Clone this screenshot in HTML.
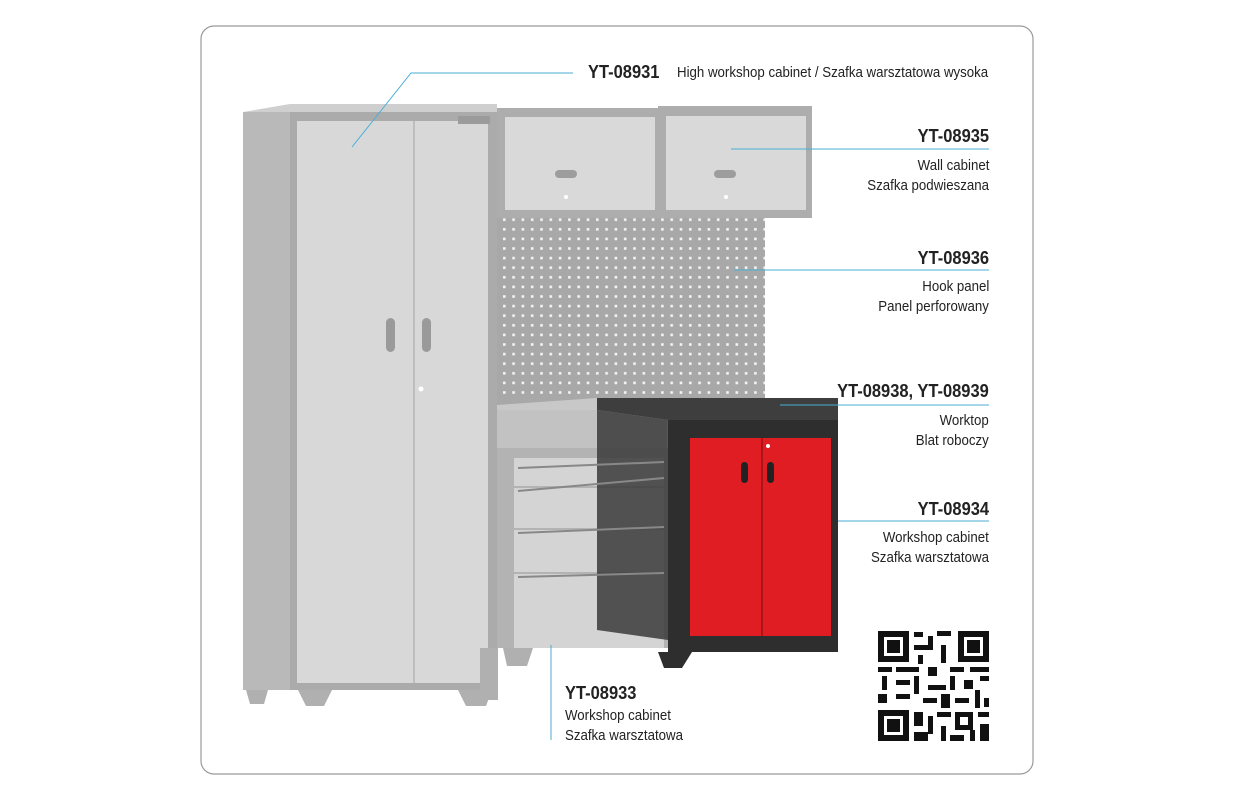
<!DOCTYPE html>
<html><head><meta charset="utf-8"><style>
body{margin:0;width:1234px;height:800px;background:#fff;position:relative;overflow:hidden;font-family:"Liberation Sans",sans-serif;color:#222}
.t{position:absolute;white-space:nowrap;font-size:14.5px;line-height:20px;transform:scaleX(0.915);transform-origin:left center}
.b{font-weight:bold;font-size:18px}
.r{text-align:right;right:245px;transform-origin:right center}
</style></head><body>
<svg width="1234" height="800" style="position:absolute;left:0;top:0">
<defs>
<pattern id="dots" x="501" y="226" width="9.3" height="9.6" patternUnits="userSpaceOnUse"><rect x="2" y="2" width="2.6" height="2.6" fill="#f4f4f4"/></pattern>
</defs>
<rect x="201" y="26" width="832" height="748" rx="13" fill="#fff" stroke="#9a9a9a" stroke-width="1.2"/>
<!-- tall cabinet -->
<polygon points="243,112 290,112 290,690 243,690" fill="#b9b9b9"/>
<polygon points="243,112 290,104 497,104 497,112" fill="#cfcfcf"/>
<rect x="290" y="112" width="207" height="578" fill="#ababab"/>
<rect x="297" y="121" width="191" height="562" fill="#d8d8d8"/>
<line x1="414" y1="121" x2="414" y2="683" stroke="#b5b5b5" stroke-width="1.5"/>
<rect x="386" y="318" width="9" height="34" rx="4.5" fill="#9a9a9a"/>
<rect x="422" y="318" width="9" height="34" rx="4.5" fill="#9a9a9a"/>
<circle cx="421" cy="389" r="2.5" fill="#fff"/>
<rect x="458" y="116" width="32" height="8" fill="#9b9b9b"/>
<path d="M246 690h22l-4 14h-14z M298 690h34l-8 16h-18z M458 690h34l-6 16h-20z" fill="#b0b0b0"/>
<!-- wall cabinets -->
<rect x="497" y="108" width="163" height="110" fill="#adadad"/>
<rect x="505" y="117" width="150" height="93" fill="#d9d9d9"/>
<rect x="555" y="170" width="22" height="8" rx="4" fill="#9d9d9d"/>
<circle cx="566" cy="197" r="2" fill="#fff"/>
<rect x="658" y="106" width="154" height="112" fill="#adadad"/>
<rect x="666" y="116" width="140" height="94" fill="#d9d9d9"/>
<rect x="714" y="170" width="22" height="8" rx="4" fill="#9d9d9d"/>
<circle cx="726" cy="197" r="2" fill="#fff"/>
<!-- pegboard -->
<rect x="497" y="218" width="268" height="192" fill="#a8a8a8"/>
<rect x="497" y="218" width="268" height="180" fill="url(#dots)"/>
<!-- worktop -->
<polygon points="497,405 597,398 838,398 838,410 497,418" fill="#c8c8c8"/>
<rect x="497" y="410" width="170" height="38" fill="#c2c2c2"/>
<!-- drawer cabinet -->
<rect x="497" y="448" width="171" height="200" fill="#b3b3b3"/>
<rect x="514" y="458" width="150" height="28" fill="#d4d4d4"/>
<rect x="514" y="488" width="150" height="40" fill="#d4d4d4"/>
<rect x="514" y="530" width="150" height="42" fill="#d4d4d4"/>
<rect x="514" y="574" width="150" height="74" fill="#d4d4d4"/>
<path d="M503 648h30l-6 18h-20z M480 648h18v52h-18z" fill="#b0b0b0"/>
<!-- dark overlay -->
<polygon points="597,410 668,420 668,640 597,630" fill="#3a3a3a" opacity="0.85"/>
<polygon points="597,398 838,398 838,420 668,420 597,410" fill="#3e3e3e"/>
<g stroke="#888" stroke-width="2"><line x1="518" y1="468" x2="664" y2="462"/><line x1="518" y1="491" x2="664" y2="478"/><line x1="518" y1="533" x2="664" y2="527"/><line x1="518" y1="577" x2="664" y2="573"/></g>
<!-- red cabinet -->
<rect x="668" y="420" width="170" height="232" fill="#2e2e2e"/>
<rect x="690" y="438" width="141" height="198" fill="#e11d24"/>
<line x1="762" y1="438" x2="762" y2="636" stroke="#9d1015" stroke-width="1.5"/>
<rect x="741" y="462" width="7" height="21" rx="3.5" fill="#222"/>
<rect x="767" y="462" width="7" height="21" rx="3.5" fill="#222"/>
<circle cx="768" cy="446" r="2" fill="#fff"/>
<path d="M658 652h34l-10 16h-18z" fill="#2e2e2e"/>
<rect x="820" y="640" width="14" height="10" fill="#2e2e2e"/>
<!-- connectors -->
<g stroke="#4aaed6" stroke-width="1" fill="none">
<polyline points="352,147 411,73 573,73"/>
<line x1="731" y1="149" x2="989" y2="149"/>
<line x1="734" y1="270" x2="989" y2="270"/>
<line x1="780" y1="405" x2="989" y2="405"/>
<line x1="838" y1="521" x2="989" y2="521"/>
<line x1="551" y1="645" x2="551" y2="740"/>
</g>
<!-- QR -->
<g fill="#111">
<rect x="878" y="631" width="111" height="110" fill="#fff"/>
<path d="M878 631h31v31h-31z M884 637v19h19v-19z M887 640h13v13h-13z" fill-rule="evenodd"/>
<path d="M958 631h31v31h-31z M964 637v19h19v-19z M967 640h13v13h-13z" fill-rule="evenodd"/>
<path d="M878 710h31v31h-31z M884 716v19h19v-19z M887 719h13v13h-13z" fill-rule="evenodd"/>
<rect x="914" y="632" width="9" height="5"/><rect x="928" y="636" width="5" height="14"/><rect x="937" y="631" width="14" height="5"/><rect x="914" y="645" width="18" height="5"/><rect x="941" y="645" width="5" height="18"/><rect x="918" y="655" width="5" height="9"/>
<rect x="878" y="667" width="14" height="5"/><rect x="896" y="667" width="23" height="5"/><rect x="928" y="667" width="9" height="9"/><rect x="950" y="667" width="14" height="5"/><rect x="970" y="667" width="19" height="5"/>
<rect x="882" y="676" width="5" height="14"/><rect x="896" y="680" width="14" height="5"/><rect x="914" y="676" width="5" height="18"/><rect x="928" y="685" width="18" height="5"/><rect x="950" y="676" width="5" height="14"/><rect x="964" y="680" width="9" height="9"/><rect x="980" y="676" width="9" height="5"/>
<rect x="878" y="694" width="9" height="9"/><rect x="896" y="694" width="14" height="5"/><rect x="923" y="698" width="14" height="5"/><rect x="941" y="694" width="9" height="14"/><rect x="955" y="698" width="14" height="5"/><rect x="975" y="690" width="5" height="18"/><rect x="984" y="698" width="5" height="9"/>
<rect x="914" y="712" width="9" height="14"/><rect x="928" y="716" width="5" height="18"/><rect x="937" y="712" width="14" height="5"/><rect x="955" y="712" width="18" height="18" /><rect x="960" y="717" width="8" height="8" fill="#fff"/><rect x="978" y="712" width="11" height="5"/>
<rect x="914" y="732" width="14" height="9"/><rect x="941" y="726" width="5" height="15"/><rect x="950" y="735" width="14" height="6"/><rect x="970" y="730" width="5" height="11"/><rect x="980" y="724" width="9" height="17"/>
</g>
</svg>
<div class="t b" style="left:588px;top:62px">YT-08931</div>
<div class="t" style="left:677px;top:63px">High workshop cabinet / Szafka warsztatowa wysoka</div>
<div class="t b r" style="top:126px">YT-08935</div>
<div class="t r" style="top:156px">Wall cabinet</div>
<div class="t r" style="top:176px">Szafka podwieszana</div>
<div class="t b r" style="top:248px">YT-08936</div>
<div class="t r" style="top:277px">Hook panel</div>
<div class="t r" style="top:297px">Panel perforowany</div>
<div class="t b r" style="top:381px">YT-08938, YT-08939</div>
<div class="t r" style="top:411px">Worktop</div>
<div class="t r" style="top:431px">Blat roboczy</div>
<div class="t b r" style="top:499px">YT-08934</div>
<div class="t r" style="top:528px">Workshop cabinet</div>
<div class="t r" style="top:548px">Szafka warsztatowa</div>
<div class="t b" style="left:565px;top:683px">YT-08933</div>
<div class="t" style="left:565px;top:706px">Workshop cabinet</div>
<div class="t" style="left:565px;top:726px">Szafka warsztatowa</div>
</body></html>
